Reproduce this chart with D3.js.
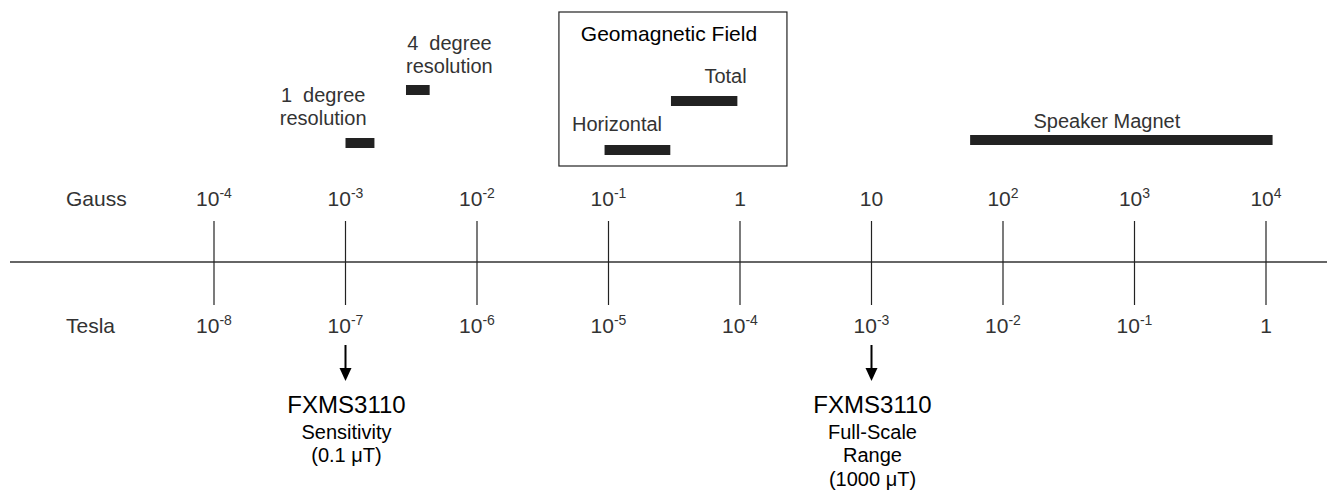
<!DOCTYPE html>
<html>
<head>
<meta charset="utf-8">
<script src="https://cdn.jsdelivr.net/npm/d3@7"></script>
<style>
  body { margin: 0; background: #fff; }
  text { font-family: "Liberation Sans", Arial, sans-serif; fill: #333; }
</style>
</head>
<body>
<div id="chart"></div>
<script>
// constants
const width = 1327;
const height = 497;

// data: decades of the scale (gauss exponents) and the matching tesla exponents
const gaussExp = [-4, -3, -2, -1, 0, 1, 2, 3, 4];
const teslaExp = [-8, -7, -6, -5, -4, -3, -2, -1, 0];

// field ranges, in log10(gauss)
const ranges = [
  { name: "1 degree", lo: -3.0, hi: -2.78, row: 143 },
  { name: "4 degree", lo: -2.54, hi: -2.36, row: 90 },
  { name: "Horizontal", lo: -1.03, hi: -0.53, row: 150 },
  { name: "Total", lo: -0.525, hi: -0.02, row: 101 },
  { name: "Speaker Magnet", lo: 1.75, hi: 4.05, row: 140 },
];

// range labels (lines of text), centred at log10(gauss) g
const rangeLabels = [
  { lines: ["1\u00a0 degree", "resolution"], g: -3.17, y: 102 },
  { lines: ["4\u00a0 degree", "resolution"], g: -2.21, y: 50 },
  { lines: ["Total"], g: -0.11, y: 83 },
  { lines: ["Horizontal"], g: -0.935, y: 131 },
  { lines: ["Speaker Magnet"], g: 2.79, y: 128 },
];

// sensor callouts, in log10(gauss)
const callouts = [
  { g: -3, lines: ["FXMS3110", "Sensitivity", "(0.1 \u03bcT)"] },
  { g: 1, lines: ["FXMS3110", "Full-Scale", "Range", "(1000 \u03bcT)"] },
];

const x = d3.scaleLinear().domain([-4, 4]).range([214, 1266]);

const svg = d3
  .select("#chart")
  .append("svg")
  .attr("width", width)
  .attr("height", height);

// main axis line
svg
  .append("line")
  .attr("x1", 10)
  .attr("x2", width)
  .attr("y1", 262)
  .attr("y2", 262)
  .attr("stroke", "#666")
  .attr("stroke-width", 2);

// decade ticks
svg
  .selectAll(".tick")
  .data(gaussExp)
  .join("line")
  .attr("class", "tick")
  .attr("x1", (d) => x(d))
  .attr("x2", (d) => x(d))
  .attr("y1", 221)
  .attr("y2", 305)
  .attr("stroke", "#222")
  .attr("stroke-width", 1.2);

// power-of-ten labels
function powerLabel(sel, e) {
  if (e === 0) {
    sel.text("1");
  } else if (e === 1) {
    sel.text("10");
  } else {
    sel.append("tspan").text("10");
    sel
      .append("tspan")
      .attr("dy", -8)
      .attr("font-size", 14)
      .text(e < 0 ? "-" + Math.abs(e) : e);
  }
}

svg
  .append("text")
  .attr("x", 66)
  .attr("y", 206)
  .attr("font-size", 21)
  .text("Gauss");

svg
  .append("text")
  .attr("x", 66)
  .attr("y", 333)
  .attr("font-size", 21)
  .text("Tesla");

svg
  .selectAll(".glabel")
  .data(gaussExp)
  .join("text")
  .attr("class", "glabel")
  .attr("x", (d) => x(d))
  .attr("y", 206)
  .attr("font-size", 21)
  .attr("text-anchor", "middle")
  .each(function (d) {
    powerLabel(d3.select(this), d);
  });

svg
  .selectAll(".tlabel")
  .data(teslaExp)
  .join("text")
  .attr("class", "tlabel")
  .attr("x", (d, i) => x(gaussExp[i]))
  .attr("y", 333)
  .attr("font-size", 21)
  .attr("text-anchor", "middle")
  .each(function (d) {
    powerLabel(d3.select(this), d);
  });

// geomagnetic field box
svg
  .append("rect")
  .attr("x", x(-1.377))
  .attr("y", 12)
  .attr("width", x(0.357) - x(-1.377))
  .attr("height", 154)
  .attr("fill", "none")
  .attr("stroke", "#222")
  .attr("stroke-width", 1.2);

svg
  .append("text")
  .attr("x", x(-0.54))
  .attr("y", 41)
  .attr("font-size", 21)
  .attr("text-anchor", "middle")
  .style("fill", "#000")
  .text("Geomagnetic Field");

// range bars
svg
  .selectAll(".bar")
  .data(ranges)
  .join("rect")
  .attr("class", "bar")
  .attr("x", (d) => x(d.lo))
  .attr("y", (d) => d.row - 5)
  .attr("width", (d) => x(d.hi) - x(d.lo))
  .attr("height", 10)
  .attr("fill", "#222");

const rl = svg
  .selectAll(".rlabel")
  .data(rangeLabels)
  .join("text")
  .attr("class", "rlabel")
  .attr("font-size", 20)
  .attr("text-anchor", "middle");

rl.selectAll("tspan")
  .data((d) => d.lines.map((l, i) => ({ l, i, d })))
  .join("tspan")
  .attr("x", (t) => x(t.d.g))
  .attr("y", (t) => t.d.y + t.i * 23)
  .text((t) => t.l);

// arrows and callouts
svg
  .selectAll(".arrow")
  .data(callouts)
  .join("line")
  .attr("class", "arrow")
  .attr("x1", (d) => x(d.g))
  .attr("x2", (d) => x(d.g))
  .attr("y1", 345)
  .attr("y2", 370)
  .attr("stroke", "#000")
  .attr("stroke-width", 2);

svg
  .selectAll(".head")
  .data(callouts)
  .join("path")
  .attr("class", "head")
  .attr("d", (d) => {
    const cx = x(d.g);
    return `M${cx - 6},368 L${cx + 6},368 L${cx},381 Z`;
  })
  .attr("fill", "#000");

const co = svg
  .selectAll(".callout")
  .data(callouts)
  .join("text")
  .attr("class", "callout")
  .attr("text-anchor", "middle")
  .style("fill", "#000");

co.selectAll("tspan")
  .data((d) => d.lines.map((l, i) => ({ l, i, d })))
  .join("tspan")
  .attr("x", (t) => x(t.d.g) + 1)
  .attr("y", (t) => (t.i === 0 ? 413 : 415 + t.i * 23.5))
  .attr("font-size", (t) => (t.i === 0 ? 24 : 20))
  .text((t) => t.l);
</script>
</body>
</html>
